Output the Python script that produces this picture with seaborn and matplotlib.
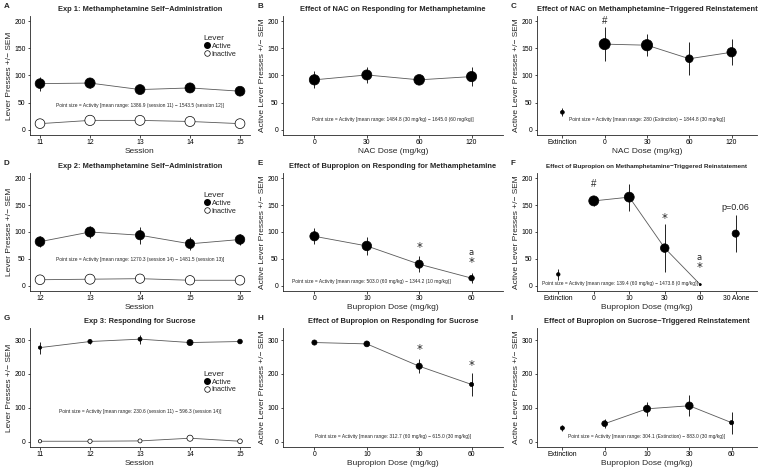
import numpy as np
import pandas as pd
import matplotlib
matplotlib.use("Agg")
import matplotlib.pyplot as plt
from matplotlib.lines import Line2D
import seaborn as sns

# ---- data ----
# A: Exp 1 methamphetamine self-administration
a_session = [11, 12, 13, 14, 15]
a_active = [85, 86, 74, 77, 71]
a_active_sem = [13, 9, 3, 3, 3]
a_inactive = [11, 17, 17, 15, 11]
a_inactive_sem = [2, 3, 2, 2, 2]
a_activity = [1386.9, 1543.5, 1450, 1480, 1420]

# B: NAC on responding for methamphetamine
b_dose = ["0", "30", "60", "120"]
b_mean = [92, 101, 92, 98]
b_sem = [16, 15, 4, 17]
b_activity = [1560, 1484.8, 1645.0, 1550]

# C: NAC on methamphetamine-triggered reinstatement
c_dose = ["Extinction", "0", "30", "60", "120"]
c_mean = [32, 158, 156, 131, 143]
c_sem = [7, 31, 20, 31, 24]
c_activity = [280, 1800, 1844.8, 900, 1300]

# D: Exp 2 methamphetamine self-administration
d_session = [12, 13, 14, 15, 16]
d_active = [82, 100, 94, 78, 86]
d_active_sem = [10, 12, 16, 12, 11]
d_inactive = [11, 12, 13, 10, 10]
d_inactive_sem = [2, 2, 2, 2, 2]
d_activity = [1380, 1481.5, 1270.3, 1300, 1350]

# E: bupropion on responding for methamphetamine
e_dose = ["0", "10", "30", "60"]
e_mean = [92, 74, 40, 14]
e_sem = [15, 16, 15, 9]
e_activity = [1250, 1344.2, 1000, 503.0]

# F: bupropion on methamphetamine-triggered reinstatement
f_dose = ["Extinction", "0", "10", "30", "60", "30 Alone"]
f_mean = [21, 158, 165, 70, 2, 97]
f_sem = [10, 10, 25, 44, 1, 35]
f_activity = [250, 1473.8, 1450, 1100, 139.4, 800]

# G: Exp 3 responding for sucrose
g_session = [11, 12, 13, 14, 15]
g_active = [278, 296, 303, 293, 296]
g_active_sem = [18, 7, 13, 3, 3]
g_inactive = [1, 1, 2, 10, 1]
g_inactive_sem = [1, 1, 1, 2, 1]
g_activity = [230.6, 330, 300, 596.3, 380]

# H: bupropion on responding for sucrose
h_dose = ["0", "10", "30", "60"]
h_mean = [293, 289, 223, 169]
h_sem = [3, 6, 20, 34]
h_activity = [450, 550, 615.0, 312.7]

# I: bupropion on sucrose-triggered reinstatement
i_dose = ["Extinction", "0", "10", "30", "60"]
i_mean = [40, 53, 97, 106, 56]
i_sem = [10, 14, 21, 31, 33]
i_activity = [304.1, 550, 800, 883.0, 320]

SIZES = (2, 66)
SIZE_NORM = (130, 1850)
LINE_COL = "#595959"


def style_axis(ax, title, xlabel, ylabel, ylim, yticks, title_size=5.4):
    ax.set_ylim(*ylim)
    ax.set_yticks(yticks)
    ax.set_title(title, fontsize=title_size, fontweight="bold", pad=3.5)
    ax.set_xlabel(xlabel, fontsize=6, labelpad=1.2)
    ax.set_ylabel(ylabel, fontsize=6, labelpad=1.2)
    ax.tick_params(labelsize=4.9, length=1.8, width=0.5, pad=1.3, colors="black")
    for s in ["left", "bottom"]:
        ax.spines[s].set_linewidth(0.6)
    sns.despine(ax=ax)


def session_panel(ax, sessions, active, active_sem, inactive, inactive_sem, activity):
    df = pd.DataFrame({
        "session": sessions * 2,
        "presses": active + inactive,
        "sem": active_sem + inactive_sem,
        "lever": ["Active"] * len(sessions) + ["Inactive"] * len(sessions),
        "activity": activity * 2,
    })
    for lev, sub in df.groupby("lever"):
        sns.lineplot(data=sub, x="session", y="presses", color=LINE_COL,
                     lw=0.6, ax=ax, legend=False, zorder=1)
    ax.vlines(df["session"], df["presses"] - df["sem"], df["presses"] + df["sem"],
              color="black", lw=0.6, zorder=2)
    sns.scatterplot(data=df, x="session", y="presses", hue="lever",
                    palette={"Active": "black", "Inactive": "white"},
                    size="activity", sizes=SIZES, size_norm=SIZE_NORM,
                    edgecolor="black", linewidth=0.5, legend=False, ax=ax, zorder=3)
    ax.set_xlim(sessions[0] - 0.2, sessions[-1] + 0.2)
    ax.set_xticks(sessions)


def dose_panel(ax, doses, means, sem, activity, connected):
    pos = np.arange(len(doses))
    df = pd.DataFrame({"pos": pos, "dose": doses, "presses": means,
                       "sem": sem, "activity": activity})
    sub = df[df["dose"].isin(connected)]
    sns.lineplot(data=sub, x="pos", y="presses", color=LINE_COL, lw=0.6,
                 ax=ax, legend=False, zorder=1)
    ax.vlines(df["pos"], df["presses"] - df["sem"], df["presses"] + df["sem"],
              color="black", lw=0.6, zorder=2)
    sns.scatterplot(data=df, x="pos", y="presses", color="black",
                    size="activity", sizes=SIZES, size_norm=SIZE_NORM,
                    edgecolor="black", linewidth=0.5, legend=False, ax=ax, zorder=3)
    ax.set_xlim(-0.6, len(doses) - 0.4)
    ax.set_xticks(pos)
    ax.set_xticklabels(doses)


def note(ax, text, x=0.5, y=0.2):
    ax.text(x, y, text, transform=ax.transAxes, ha="center", va="center", fontsize=3.5)


def add_legend(ax, y):
    handles = [
        Line2D([], [], marker="o", ls="", markerfacecolor="black",
               markeredgecolor="black", markersize=4, label="Active"),
        Line2D([], [], marker="o", ls="", markerfacecolor="white",
               markeredgecolor="black", markersize=4, markeredgewidth=0.5,
               label="Inactive"),
    ]
    leg = ax.legend(handles=handles, title="Lever", loc="upper left",
                    bbox_to_anchor=(0.77, y), frameon=False, fontsize=5.2,
                    title_fontsize=6, handletextpad=0.1, labelspacing=0.1,
                    borderpad=0, handlelength=1.1)
    leg._legend_box.align = "left"


sns.set_theme(style="ticks")
plt.rcParams["font.family"] = ["Liberation Sans", "DejaVu Sans"]
plt.rcParams["mathtext.fontset"] = "dejavusans"

fig = plt.figure(figsize=(7.62, 4.71), dpi=100)
W, H = 762, 471
cols = [30, 283, 537]
rows = [(16, 135), (173, 291), (328, 447)]
axes = {}
letters = "ABCDEFGHI"
k = 0
for r, (top, bot) in enumerate(rows):
    for c, left in enumerate(cols):
        ax = fig.add_axes([left / W, 1 - bot / H, 220 / W, (bot - top) / H])
        axes[letters[k]] = ax
        fig.text((left - 26) / W, 1 - (top - 9) / H, letters[k], fontsize=5.8,
                 fontweight="bold", va="center", ha="left")
        k += 1

meth_ylim = (-10, 210)
meth_ticks = [0, 50, 100, 150, 200]
suc_ylim = (-16, 336)
suc_ticks = [0, 100, 200, 300]
lp = "Lever Presses +/\u2212 SEM"
alp = "Active Lever Presses +/\u2212 SEM"
star_kw = dict(ha="center", va="center", fontsize=8.5, family="DejaVu Sans")
# "a" stacked over a star, as one text
stack = r"$\overset{\mathrm{a}}{*}$"
stack_kw = dict(ha="center", va="center", fontsize=8.5)

# A
ax = axes["A"]
session_panel(ax, a_session, a_active, a_active_sem, a_inactive, a_inactive_sem, a_activity)
style_axis(ax, "Exp 1: Methamphetamine Self\u2212Administration", "Session", lp, meth_ylim, meth_ticks)
add_legend(ax, 0.87)
note(ax, "Point size = Activity [mean range: 1386.9 (session 11) \u2212 1543.5 (session 12)]", y=0.25)

# B
ax = axes["B"]
dose_panel(ax, b_dose, b_mean, b_sem, b_activity, b_dose)
style_axis(ax, "Effect of NAC on Responding for Methamphetamine", "NAC Dose (mg/kg)", alp, meth_ylim, meth_ticks)
note(ax, "Point size = Activity [mean range: 1484.8 (30 mg/kg) \u2212 1645.0 (60 mg/kg)]", y=0.13)

# C
ax = axes["C"]
dose_panel(ax, c_dose, c_mean, c_sem, c_activity, c_dose[1:])
style_axis(ax, "Effect of NAC on Methamphetamine\u2212Triggered Reinstatement", "NAC Dose (mg/kg)", alp, meth_ylim, meth_ticks)
note(ax, "Point size = Activity [mean range: 280 (Extinction) \u2212 1844.8 (30 mg/kg)]", y=0.13)
ax.text(1, 200, "#", ha="center", va="center", fontsize=7)

# D
ax = axes["D"]
session_panel(ax, d_session, d_active, d_active_sem, d_inactive, d_inactive_sem, d_activity)
style_axis(ax, "Exp 2: Methamphetamine Self\u2212Administration", "Session", lp, meth_ylim, meth_ticks)
add_legend(ax, 0.87)
note(ax, "Point size = Activity [mean range: 1270.3 (session 14) \u2212 1481.5 (session 13)]", y=0.27)

# E
ax = axes["E"]
dose_panel(ax, e_dose, e_mean, e_sem, e_activity, e_dose)
style_axis(ax, "Effect of Bupropion on Responding for Methamphetamine", "Bupropion Dose (mg/kg)", alp, meth_ylim, meth_ticks)
note(ax, "Point size = Activity [mean range: 503.0 (60 mg/kg) \u2212 1344.2 (10 mg/kg)]", x=0.40, y=0.08)
ax.text(2, 71.5, "*", **star_kw)
ax.text(3, 46, stack, **stack_kw)

# F
ax = axes["F"]
dose_panel(ax, f_dose, f_mean, f_sem, f_activity, f_dose[1:5])
style_axis(ax, "Effect of Bupropion on Methamphetamine\u2212Triggered Reinstatement", "Bupropion Dose (mg/kg)", alp, meth_ylim, meth_ticks, title_size=4.5)
note(ax, "Point size = Activity [mean range: 139.4 (60 mg/kg) \u2212 1473.8 (0 mg/kg)]", x=0.375, y=0.06)
ax.text(1, 189, "#", ha="center", va="center", fontsize=7)
ax.text(3, 124.5, "*", **star_kw)
ax.text(4, 37, stack, **stack_kw)
ax.text(5, 146, "p=0.06", ha="center", va="center", fontsize=6.5)

# G
ax = axes["G"]
session_panel(ax, g_session, g_active, g_active_sem, g_inactive, g_inactive_sem, g_activity)
style_axis(ax, "Exp 3: Responding for Sucrose", "Session", lp, suc_ylim, suc_ticks)
add_legend(ax, 0.67)
note(ax, "Point size = Activity [mean range: 230.6 (session 11) \u2212 596.3 (session 14)]", y=0.30)

# H
ax = axes["H"]
dose_panel(ax, h_dose, h_mean, h_sem, h_activity, h_dose)
style_axis(ax, "Effect of Bupropion on Responding for Sucrose", "Bupropion Dose (mg/kg)", alp, suc_ylim, suc_ticks)
note(ax, "Point size = Activity [mean range: 312.7 (60 mg/kg) \u2212 615.0 (30 mg/kg)]", y=0.09)
ax.text(2, 272, "*", **star_kw)
ax.text(3, 224, "*", **star_kw)

# I
ax = axes["I"]
dose_panel(ax, i_dose, i_mean, i_sem, i_activity, i_dose[1:])
style_axis(ax, "Effect of Bupropion on Sucrose\u2212Triggered Reinstatement", "Bupropion Dose (mg/kg)", alp, suc_ylim, suc_ticks)
note(ax, "Point size = Activity [mean range: 304.1 (Extinction) \u2212 883.0 (30 mg/kg)]", y=0.09)

fig.savefig("out.png", dpi=100)
plt.close(fig)
